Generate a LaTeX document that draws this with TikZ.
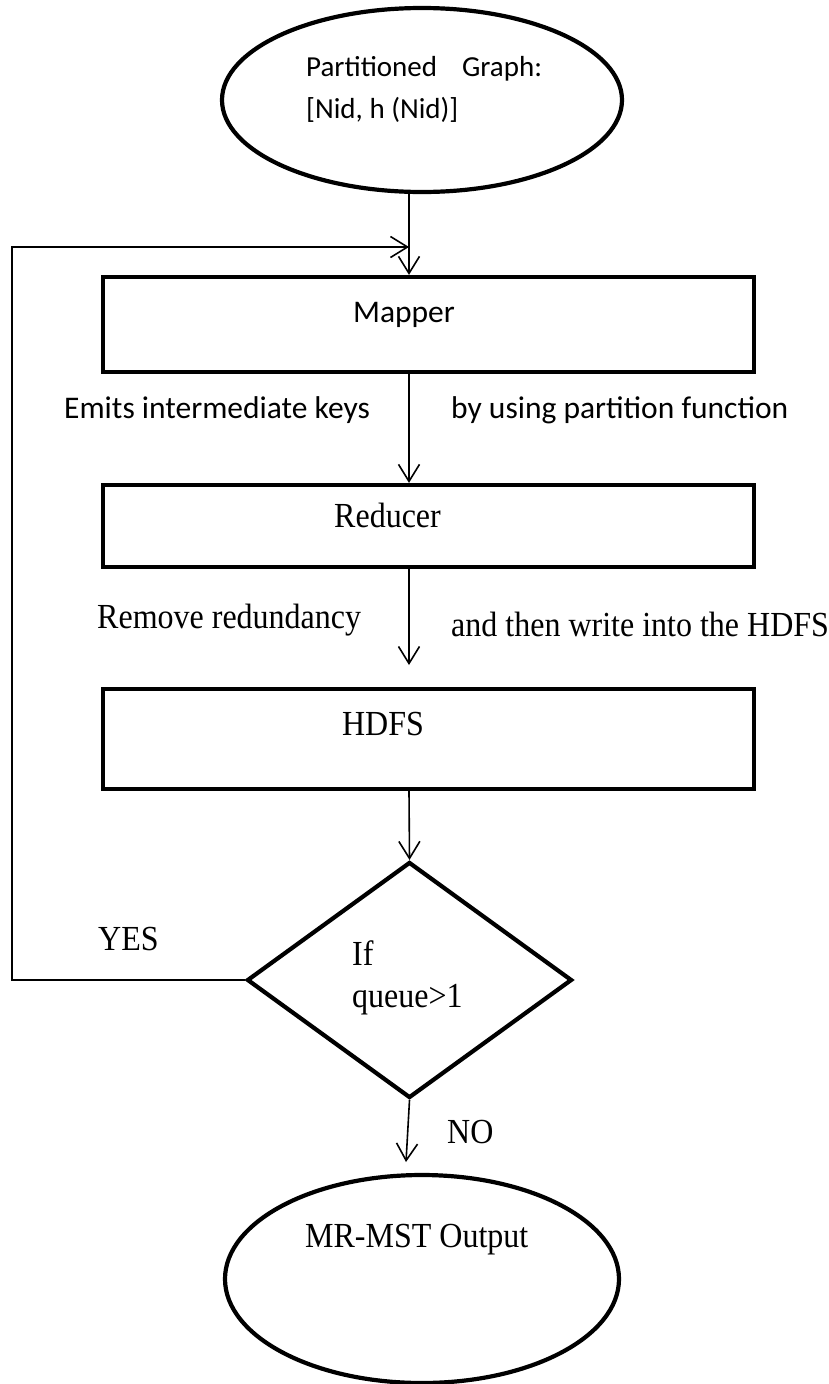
\documentclass[tikz,border=0pt]{standalone}
\usepackage{fontspec}
\usetikzlibrary{arrows.meta,shapes.geometric}
\newfontfamily\calib{Carlito}
\newfontfamily\tms{Liberation Serif}
\newcommand{\sanstxt}[2]{{\calib\fontsize{#1}{#1}\selectfont #2}}
\newcommand{\sertxt}[1]{{\tms\fontsize{32}{32}\selectfont\scalebox{1}[1.1]{#1}}}
\begin{document}
\begin{tikzpicture}[x=1pt,y=-1pt,
  shapeline/.style={draw=black,line width=4.2pt,inner sep=0pt},
  procbox/.style={shapeline,rectangle,minimum width=651pt},
  termin/.style={shapeline,ellipse},
  decide/.style={shapeline,diamond,minimum width=325pt,minimum height=236pt},
  arr/.style={line width=1.6pt,-{Straight Barb[length=17pt,width=21pt,line width=1.6pt]}},
  lbl/.style={inner sep=0pt,anchor=base west},
  ctr/.style={inner sep=0pt,anchor=base}]
\useasboundingbox (0,0) rectangle (829,1384);

% terminals, process boxes and the decision
\node[termin,minimum width=400pt,minimum height=184pt] (start) at (422,100) {};
\node[procbox,minimum height=95pt] (mapper) at (428.5,324.5) {};
\node[procbox,minimum height=82pt] (reducer) at (428.5,526) {};
\node[procbox,minimum height=100pt] (hdfs) at (428.5,739) {};
\node[decide] (dec) at (409.5,980) {};
\node[termin,minimum width=394pt,minimum height=208pt] (finish) at (422,1279) {};

% texts
\node[lbl] (t1) at (306,76) {\sanstxt{29}{Partitioned\hspace{25pt}Graph:}};
\node[lbl] (t2) at (306,118) {\sanstxt{29}{[Nid, h (Nid)]}};
\node[ctr] (tm) at (404,322) {\sanstxt{31.5}{Mapper}};
\node[lbl] (emit) at (64,418) {\sanstxt{31.5}{Emits intermediate keys}};
\node[lbl] (part) at (451,418) {\sanstxt{31.5}{by using partition function}};
\node[ctr] (tr) at (387.5,527) {\sertxt{Reducer}};
\node[lbl] (rem) at (97,628) {\sertxt{Remove redundancy}};
\node[lbl] (wri) at (451,636) {\sertxt{and then write into the HDFS}};
\node[ctr] (th) at (383,735) {\sertxt{HDFS}};
\node[lbl] (yes) at (98,950) {\sertxt{YES}};
\node[lbl] (tif) at (352,965) {\sertxt{If}};
\node[lbl] (tq) at (352,1007) {\sertxt{queue>1}};
\node[lbl] (no) at (447,1143) {\sertxt{NO}};
\node[lbl] (tout) at (305,1247) {\sertxt{MR-MST Output}};

% connector anchors
\coordinate (sp) at (409,0);
\coordinate (lt) at (12,247);
\coordinate (lb) at (12,980);
\coordinate (rtip) at (409,665);
\coordinate (ntip) at (406,1162);

% connectors
\draw[arr] (sp |- start.south) -- (sp |- mapper.north);
\draw[arr] (dec.west) -- (lb) -- (lt) -- (sp |- lt);
\draw[arr] (sp |- mapper.south) -- (sp |- reducer.north);
\draw[arr] (sp |- reducer.south) -- (rtip);
\draw[arr] (sp |- hdfs.south) -- (dec.north);
\draw[arr] (dec.south) -- (ntip);
\end{tikzpicture}
\end{document}
